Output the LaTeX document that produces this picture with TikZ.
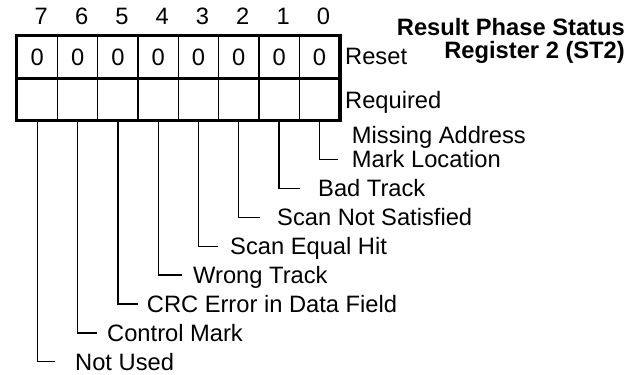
\documentclass[tikz,border=0pt]{standalone}
\usepackage{fontspec}
\setmainfont{Liberation Sans}
\usetikzlibrary{positioning}

\begin{document}
\begin{tikzpicture}[x=1pt,y=-1pt,
    font=\fontsize{23.7}{24}\selectfont,
    cell/.style={draw,line width=1.3pt,minimum width=40.3pt,minimum height=41.8pt,
      inner sep=0pt,anchor=north west},
    lbl/.style={inner sep=0pt,anchor=base west},
    ttl/.style={inner sep=0pt,anchor=base east,font=\fontsize{23.7}{24}\selectfont\bfseries},
    lead/.style={line width=1.3pt},
    frame/.style={line width=3.5pt}]
  \useasboundingbox (0,0) rectangle (641,375);
  \foreach \b in {0,...,7}{
    \node[cell] (r\b) at ({16.5+40.3*(7-\b)},35.5) {0};
    \node[cell] (q\b) at ({16.5+40.3*(7-\b)},77.3) {};
    \node[inner sep=0pt,above=10.5pt of r\b.north,xshift=4pt] (h\b) {\b};
  }
  \draw[frame] (r7.north west) rectangle (q0.south east);
  \draw[frame] (r7.south west) -- (r0.south east);

  \node[lbl] (reset) at (345,64) {Reset};
  \node[lbl] (req) at (345,108) {Required};
  \node[ttl] (title1) at (625,35) {Result Phase Status};
  \node[ttl] (title2) at (625,58) {Register 2 (ST2)};

  \node[inner sep=0pt,anchor=south west,align=left] (l0) at (351.7,167.8)
    {Missing Address\\Mark Location};
  \coordinate (e0) at (338.3,159.3);
  \draw[lead] (q0.south) |- (e0);
  \foreach \b/\ly/\ex/\tx/\txt in {1/188.4/300/318/Bad Track,
      2/217.3/260/277/Scan Not Satisfied, 3/246.2/218/230/Scan Equal Hit,
      4/275.1/181.7/193/Wrong Track, 5/304/138/146.7/CRC Error in Data Field,
      6/332.9/96.7/107/Control Mark, 7/361.8/55/75/Not Used}{
    \node[lbl] (l\b) at (\tx,\ly+8.5) {\txt};
    \coordinate (e\b) at (\ex,\ly);
    \draw[lead] (q\b.south) |- (e\b);
  }
\end{tikzpicture}
\end{document}
